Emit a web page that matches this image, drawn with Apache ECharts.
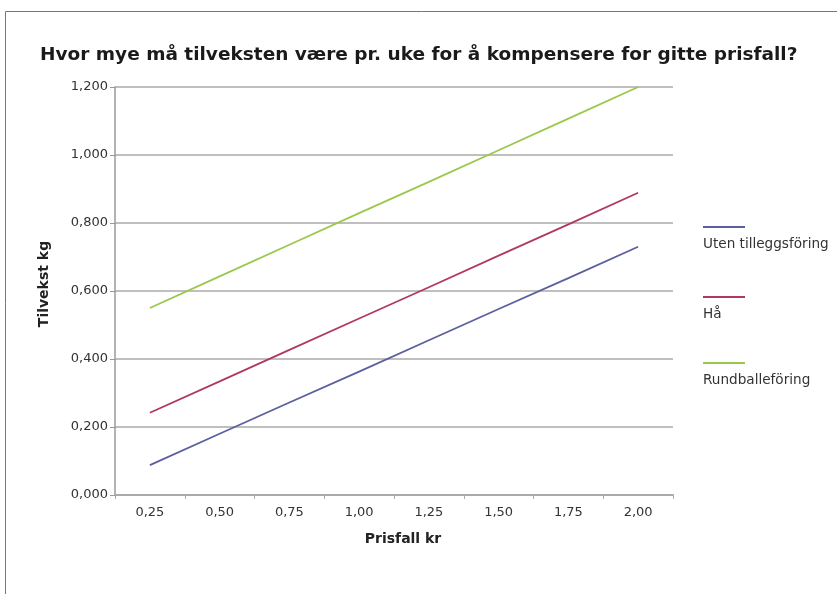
<!DOCTYPE html>
<html><head><meta charset="utf-8">
<script src="https://cdn.jsdelivr.net/npm/echarts@6/dist/echarts.min.js"></script>
<style>html,body{margin:0;padding:0;background:#fff}#c{width:837px;height:594px}</style>
</head><body><div id="c"></div>
<script>
const categories = ['0,25','0,50','0,75','1,00','1,25','1,50','1,75','2,00'];
const seriesNames = ['Uten tilleggsföring','Hå','Rundballeföring'];
const utenValues = [0.088,0.180,0.272,0.363,0.455,0.547,0.638,0.730];
const haValues = [0.242,0.334,0.427,0.519,0.611,0.704,0.796,0.889];
const rundValues = [0.550,0.643,0.736,0.829,0.921,1.014,1.107,1.200];
const colors = ['#5b5f9e','#b03a5b','#9bc84c'];
const FONT = 'DejaVu Sans';

const chart = echarts.init(document.getElementById('c'));
const legendY = [227, 297, 363];
const graphics = [
  {type:'rect', shape:{x:5.5,y:11.5,width:840,height:600}, style:{fill:null, stroke:'#777', lineWidth:1}, silent:true}
];
seriesNames.forEach((n,i)=>{
  graphics.push({type:'line', shape:{x1:703,y1:legendY[i],x2:745,y2:legendY[i]}, style:{stroke:colors[i],lineWidth:2}});
  graphics.push({type:'text', x:703, y:legendY[i]+17, style:{text:n, fill:'#333', font:'13.6px '+FONT, textVerticalAlign:'middle'}});
});
chart.setOption({
  animation:false,
  backgroundColor:'#fff',
  title:{text:'Hvor mye må tilveksten være pr. uke for å kompensere for gitte prisfall?', left:35, top:41,
    textStyle:{fontFamily:FONT, fontWeight:'bold', fontSize:18.5, color:'#1a1a1a'}},
  grid:{left:115, right:164, top:87, bottom:99},
  xAxis:{type:'category', data:categories, boundaryGap:true,
    name:'Prisfall kr', nameLocation:'middle', nameGap:37,
    nameTextStyle:{fontFamily:FONT, fontWeight:'bold', fontSize:14, color:'#222', padding:[0,0,0,18]},
    axisLine:{lineStyle:{color:'#aaa', width:2}},
    axisTick:{show:true, length:4, lineStyle:{color:'#aaa'}},
    axisLabel:{fontFamily:FONT, fontSize:13, color:'#333', margin:11}},
  yAxis:{type:'value', min:0, max:1.2, interval:0.2,
    name:'Tilvekst kg', nameLocation:'middle', nameGap:64,
    nameTextStyle:{fontFamily:FONT, fontWeight:'bold', fontSize:14, color:'#222', padding:[0,0,0,14]},
    axisLine:{show:true, lineStyle:{color:'#999', width:1.5}},
    axisTick:{show:true, length:5, lineStyle:{color:'#999'}},
    splitLine:{lineStyle:{color:'#aaa', width:1.5}},
    axisLabel:{fontFamily:FONT, fontSize:13, color:'#333', margin:7,
      formatter:v=>v.toFixed(3).replace('.',',')}},
  series:[
    {name:seriesNames[0], type:'line', data:utenValues, color:colors[0], symbol:'none', lineStyle:{width:1.8}},
    {name:seriesNames[1], type:'line', data:haValues, color:colors[1], symbol:'none', lineStyle:{width:1.8}},
    {name:seriesNames[2], type:'line', data:rundValues, color:colors[2], symbol:'none', lineStyle:{width:1.8}}
  ],
  graphic:graphics
});
</script></body></html>
